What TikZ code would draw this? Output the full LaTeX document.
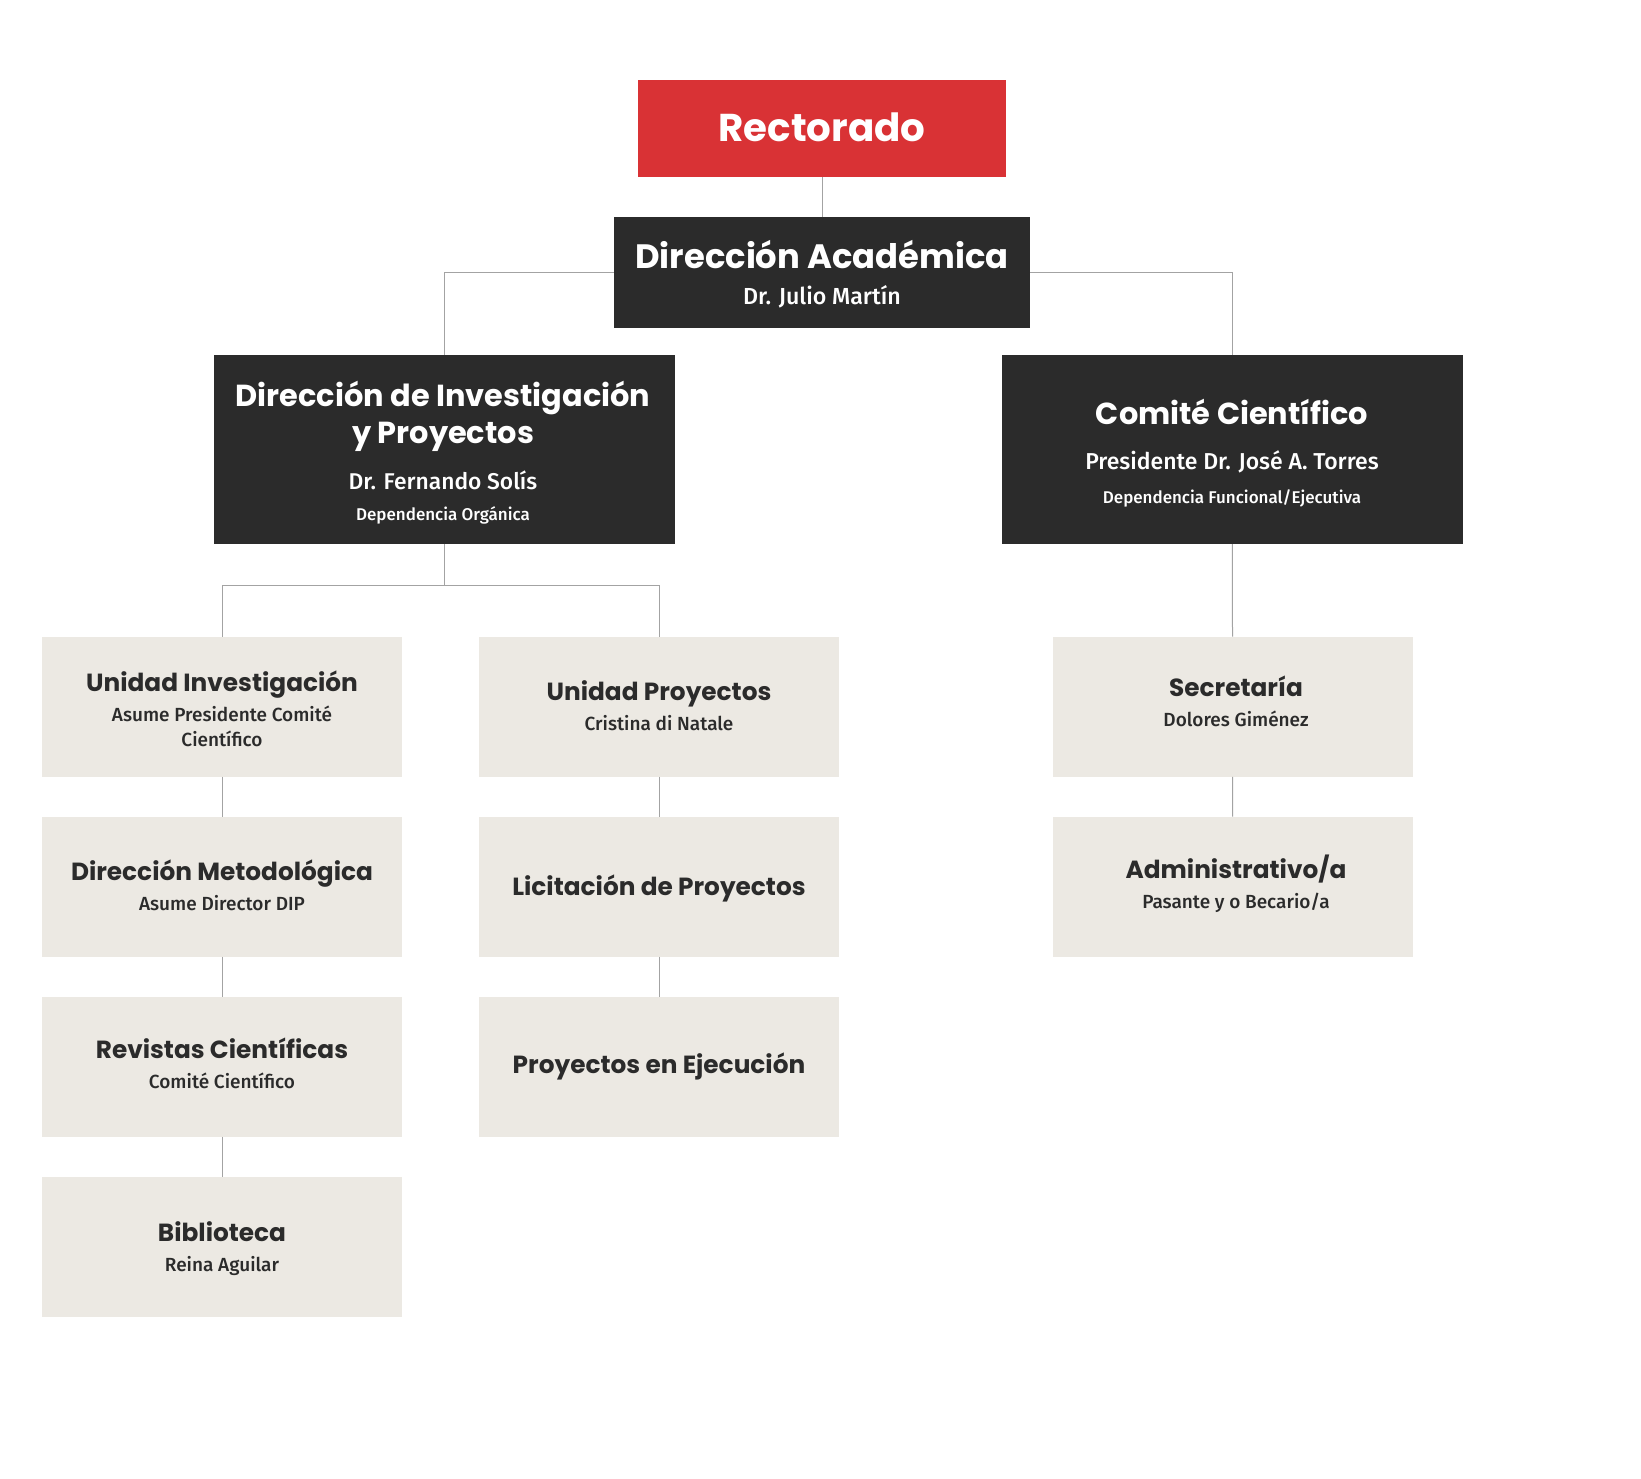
\documentclass[tikz,border=0pt]{standalone}
\usepackage{fontspec}
\setmainfont{Fira Sans}
\newfontfamily\headfont{Poppins}
\newfontfamily\subfont{Fira Sans Medium}
\definecolor{rojo}{HTML}{D93235}
\definecolor{oscuro}{HTML}{2B2B2B}
\definecolor{beige}{HTML}{ECE9E3}
\definecolor{linea}{HTML}{A3A3A3}
\tikzset{
  rector/.style={rectangle, fill=rojo, minimum width=368pt, minimum height=97pt, inner sep=0pt},
  direccion/.style={rectangle, fill=oscuro, minimum width=416pt, minimum height=111pt, inner sep=0pt},
  jefe/.style={rectangle, fill=oscuro, minimum width=461pt, minimum height=189pt, inner sep=0pt},
  unidad/.style={rectangle, fill=beige, minimum width=360pt, minimum height=140pt, inner sep=0pt},
  titulo/.style={anchor=base, inner sep=0pt, font=\headfont\bfseries\fontsize{#1}{#1}\selectfont},
  nombre/.style={anchor=base, inner sep=0pt, font=\subfont\fontsize{#1}{#1}\selectfont},
  enlace/.style={draw=linea, line width=1pt}
}
\begin{document}
\begin{tikzpicture}[x=1pt, y=-1pt]
  \fill[white] (0,0) rectangle (1641,1478);
  \useasboundingbox (0,0) rectangle (1641,1478);

  \node[rector] (rect) at (822,128.5) {};
  \node[titulo=38.8, text=white] (rect-t) at (822,141.7) {Rectorado};

  \node[direccion] (acad) at (822,272.2) {};
  \node[titulo=33.8, text=white] (acad-t) at (822,268) {Dirección Académica};
  \node[nombre=23.2, text=white] (acad-n) at (822,304) {Dr. Julio Martín};

  \node[jefe] (dip) at (444,449.5) {};
  \node[titulo=30.4, text=white] (dip-t1) at (443,406) {Dirección de Investigación};
  \node[titulo=30.4, text=white] (dip-t2) at (443,443.5) {y Proyectos};
  \node[nombre=22.8, text=white] (dip-n) at (443,489) {Dr. Fernando Solís};
  \node[nombre=17, text=white] (dip-d) at (443,520) {Dependencia Orgánica};

  \node[jefe] (comite) at (1232,449.5) {};
  \node[titulo=30.4, text=white] (comite-t) at (1232,424) {Comité Científico};
  \node[nombre=23, text=white] (comite-n) at (1232,469) {Presidente Dr. José A. Torres};
  \node[nombre=17, text=white] (comite-d) at (1232,503) {Dependencia Funcional/Ejecutiva};

  \node[unidad] (ui) at (222,706.7) {};
  \node[titulo=24.8, text=oscuro] (ui-t) at (222,691.7) {Unidad Investigación};
  \node[nombre=19, text=oscuro] (ui-n1) at (222,721.7) {Asume Presidente Comité};
  \node[nombre=19, text=oscuro] (ui-n2) at (222,746.7) {Científico};

  \node[unidad] (dm) at (222,886.7) {};
  \node[titulo=24.8, text=oscuro] (dm-t) at (222,880) {Dirección Metodológica};
  \node[nombre=19, text=oscuro] (dm-n) at (222,910) {Asume Director DIP};

  \node[unidad] (rc) at (222,1066.7) {};
  \node[titulo=24.8, text=oscuro] (rc-t) at (222,1058.3) {Revistas Científicas};
  \node[nombre=19, text=oscuro] (rc-n) at (222,1088.3) {Comité Científico};

  \node[unidad] (bib) at (222,1246.7) {};
  \node[titulo=24.8, text=oscuro] (bib-t) at (222,1241.7) {Biblioteca};
  \node[nombre=19, text=oscuro] (bib-n) at (222,1271.7) {Reina Aguilar};

  \node[unidad] (up) at (659,706.7) {};
  \node[titulo=24.8, text=oscuro] (up-t) at (659,700.7) {Unidad Proyectos};
  \node[nombre=19, text=oscuro] (up-n) at (659,730.7) {Cristina di Natale};

  \node[unidad] (lic) at (659,886.7) {};
  \node[titulo=24.8, text=oscuro] (lic-t) at (659,895) {Licitación de Proyectos};

  \node[unidad] (pe) at (659,1066.7) {};
  \node[titulo=24.8, text=oscuro] (pe-t) at (659,1073.3) {Proyectos en Ejecución};

  \node[unidad] (sec) at (1232.7,706.7) {};
  \node[titulo=24.8, text=oscuro] (sec-t) at (1236,696.7) {Secretaría};
  \node[nombre=19, text=oscuro] (sec-n) at (1236,726.7) {Dolores Giménez};

  \node[unidad] (adm) at (1232.7,886.7) {};
  \node[titulo=24.8, text=oscuro] (adm-t) at (1236,878.3) {Administrativo/a};
  \node[nombre=19, text=oscuro] (adm-n) at (1236,908.3) {Pasante y o Becario/a};

  \coordinate (dipb) at (444,585);
  \draw[enlace] (rect.south) -- (acad.north);
  \draw[enlace] (acad.west) -| (dip.north);
  \draw[enlace] (acad.east) -| (comite.north);
  \draw[enlace] (dip.south) -- (dipb);
  \draw[enlace] (dipb) -| (ui.north);
  \draw[enlace] (dipb) -| (up.north);
  \draw[enlace] (ui) -- (dm) -- (rc) -- (bib);
  \draw[enlace] (up) -- (lic) -- (pe);
  \draw[enlace] (comite) -- (sec) -- (adm);
\end{tikzpicture}
\end{document}
